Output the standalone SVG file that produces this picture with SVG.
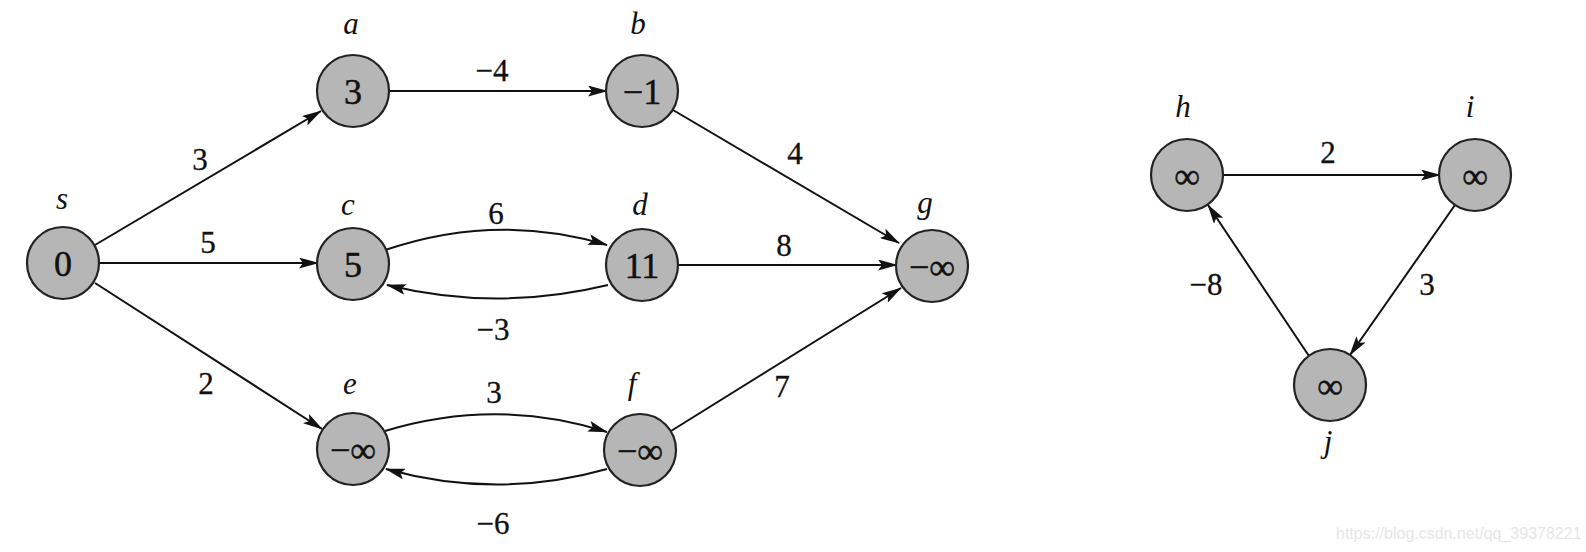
<svg xmlns="http://www.w3.org/2000/svg" width="1586" height="552" viewBox="0 0 1586 552">
  <defs>
    <marker id="arrow" viewBox="0 0 20 11" refX="19" refY="5.5" markerWidth="20" markerHeight="11" markerUnits="userSpaceOnUse" orient="auto">
      <path d="M0,0 L20,5.5 L0,11 L4,5.5 z" fill="#111"/>
    </marker>
  </defs>
  <style>
    .node circle { fill: #b6b6b6; stroke: #222; stroke-width: 2.2; }
    .val { font-family: "Liberation Serif", "Times New Roman", serif; font-size: 36px; fill: #111; stroke: #111; stroke-width: 0.5; text-anchor: middle; dominant-baseline: central; }
    .name { font-family: "Liberation Serif", "Times New Roman", serif; font-style: italic; font-size: 31px; fill: #111; text-anchor: middle; }
    .edge { fill: none; stroke: #111; stroke-width: 2; marker-end: url(#arrow); }
    .lbl { font-family: "Liberation Serif", "Times New Roman", serif; font-size: 31px; fill: #111; stroke: #111; stroke-width: 0.3; text-anchor: middle; }
    .mark { font-family: "Liberation Sans", Arial, sans-serif; font-size: 16px; fill: #e6e6e6; }
  </style>
  <rect width="1586" height="552" fill="#ffffff"/>

  <!-- connectors -->
  <g id="edges">
    <line class="edge" x1="95" y1="245" x2="321" y2="111"/>
    <line class="edge" x1="99" y1="263" x2="318" y2="263"/>
    <line class="edge" x1="95" y1="283" x2="322" y2="429"/>
    <line class="edge" x1="389" y1="91" x2="607" y2="91"/>
    <line class="edge" x1="673" y1="110" x2="899" y2="243"/>
    <path class="edge" d="M385,250 Q497,212 607,245"/>
    <path class="edge" d="M608,285 Q497,312 387,285"/>
    <line class="edge" x1="678" y1="265" x2="897" y2="265"/>
    <path class="edge" d="M385,431 Q497,397 607,432"/>
    <path class="edge" d="M607,469 Q497,500 386,469"/>
    <line class="edge" x1="671" y1="431" x2="901" y2="288"/>
    <line class="edge" x1="1223" y1="175" x2="1440" y2="175"/>
    <line class="edge" x1="1455" y1="205" x2="1350" y2="355"/>
    <line class="edge" x1="1309" y1="356" x2="1208" y2="205"/>

    <text class="lbl" x="200" y="170">3</text>
    <text class="lbl" x="208" y="253">5</text>
    <text class="lbl" x="206" y="394">2</text>
    <text class="lbl" x="492" y="81">−4</text>
    <text class="lbl" x="795" y="164">4</text>
    <text class="lbl" x="496" y="224">6</text>
    <text class="lbl" x="784" y="256">8</text>
    <text class="lbl" x="493" y="340">−3</text>
    <text class="lbl" x="494" y="403">3</text>
    <text class="lbl" x="782" y="397">7</text>
    <text class="lbl" x="493" y="534">−6</text>
    <text class="lbl" x="1328" y="163">2</text>
    <text class="lbl" x="1206" y="295">−8</text>
    <text class="lbl" x="1427" y="295">3</text>
  </g>

  <!-- left graph -->
  <g id="node-s" class="node"><circle cx="63" cy="263" r="36"/><text class="val" x="63" y="264">0</text><text class="name" x="62" y="209">s</text></g>
  <g id="node-a" class="node"><circle cx="353" cy="91" r="36"/><text class="val" x="353" y="92">3</text><text class="name" x="351" y="34">a</text></g>
  <g id="node-b" class="node"><circle cx="642" cy="91" r="36"/><text class="val" x="642" y="92">−1</text><text class="name" x="638" y="34">b</text></g>
  <g id="node-c" class="node"><circle cx="353" cy="264" r="36"/><text class="val" x="353" y="265">5</text><text class="name" x="348" y="215">c</text></g>
  <g id="node-d" class="node"><circle cx="642" cy="265" r="36"/><text class="val" x="642" y="266">11</text><text class="name" x="640" y="215">d</text></g>
  <g id="node-g" class="node"><circle cx="932" cy="266" r="36"/><text class="val" x="932" y="267">−∞</text><text class="name" x="925" y="213">g</text></g>
  <g id="node-e" class="node"><circle cx="353" cy="449" r="36"/><text class="val" x="353" y="450">−∞</text><text class="name" x="350" y="394">e</text></g>
  <g id="node-f" class="node"><circle cx="640" cy="450" r="36"/><text class="val" x="640" y="451">−∞</text><text class="name" x="632" y="394">f</text></g>

  <!-- right graph -->
  <g id="node-h" class="node"><circle cx="1187" cy="175" r="36"/><text class="val" x="1187" y="176">∞</text><text class="name" x="1183" y="117">h</text></g>
  <g id="node-i" class="node"><circle cx="1475" cy="175" r="36"/><text class="val" x="1475" y="176">∞</text><text class="name" x="1470" y="117">i</text></g>
  <g id="node-j" class="node"><circle cx="1330" cy="385" r="36"/><text class="val" x="1330" y="386">∞</text><text class="name" x="1328" y="452">j</text></g>

  <text class="mark" x="1336" y="539">https://blog.csdn.net/qq_39378221</text>
</svg>
